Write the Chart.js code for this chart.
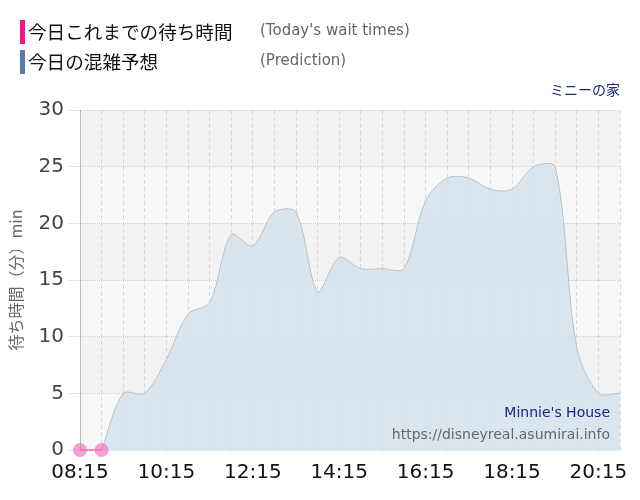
<!DOCTYPE html>
<html>
<head>
<meta charset="utf-8">
<script src="https://cdn.jsdelivr.net/npm/chart.js@4/dist/chart.umd.min.js"></script>
<style>
  body { margin: 0; background: #fff; }
  #wrap { position: relative; width: 640px; height: 500px; }
  .leg { position: absolute; left: 20px; height: 24px; font-family: "Noto Sans CJK JP", sans-serif; }
  .leg .bar { position: absolute; left: 0; top: 0; width: 5px; height: 24px; }
  .leg .jp { position: absolute; left: 8px; top: -3px; font-size: 18.6px; color: #111; white-space: nowrap; }
  .leg .en { position: absolute; left: 240px; top: 1px; font-size: 15px; color: #666; white-space: nowrap; font-family: "DejaVu Sans", sans-serif; }
  #park { position: absolute; right: 20px; top: 79px; font-size: 14px; color: #1a237e; font-family: "Noto Sans CJK JP", sans-serif; }
  #wm1 { position: absolute; right: 30px; top: 404px; font-size: 14px; color: #1a237e; font-family: "DejaVu Sans", sans-serif; }
  #wm2 { position: absolute; right: 30px; top: 426px; font-size: 14px; color: #666; font-family: "DejaVu Sans", sans-serif; }
</style>
</head>
<body>
<div id="wrap">
  <canvas id="c" width="640" height="500"></canvas>
  <div class="leg" style="top:20px"><div class="bar" style="background:#f5148c"></div><div class="jp">今日これまでの待ち時間</div><div class="en">(Today's wait times)</div></div>
  <div class="leg" style="top:50px"><div class="bar" style="background:#5b7aa6"></div><div class="jp">今日の混雑予想</div><div class="en">(Prediction)</div></div>
  <div id="park">ミニーの家</div>
  <div id="wm1">Minnie's House</div>
  <div id="wm2">https://disneyreal.asumirai.info</div>
</div>
<script>
const times = ['08:15','08:45','09:15','09:45','10:15','10:45','11:15','11:45','12:15','12:45','13:15','13:45',
  '14:15','14:45','15:15','15:45','16:15','16:45','17:15','17:45','18:15','18:45','19:15','19:45','20:15','20:45'];
const actual = [0, 0];
const prediction = [null, 0, 5, 5, 8, 12, 13, 19, 18, 21, 21, 14, 17, 16, 16, 16, 22, 24, 24, 23, 23, 25, 25, 9, 5, 5];
const yTicks = [0, 5, 10, 15, 20, 25, 30];

// striped plot background
const bands = {
  id: 'bands',
  beforeDraw(chart) {
    const { ctx, chartArea: a, scales: { y } } = chart;
    ctx.save();
    for (let i = 0; i < yTicks.length - 1; i++) {
      const top = y.getPixelForValue(yTicks[i + 1]);
      const bot = y.getPixelForValue(yTicks[i]);
      ctx.fillStyle = i % 2 ? '#f2f2f2' : '#f7f7f7';
      ctx.fillRect(a.left, top, a.right - a.left, bot - top);
    }
    ctx.restore();
  }
};

new Chart(document.getElementById('c'), {
  type: 'line',
  data: {
    labels: times,
    datasets: [{
      label: '今日これまでの待ち時間',
      data: actual,
      borderColor: 'rgba(240,90,170,0.7)',
      backgroundColor: 'rgba(240,110,185,0.65)',
      borderWidth: 2,
      pointRadius: 7,
      pointBorderWidth: 0,
      fill: false,
      clip: false,
      order: 0
    }, {
      label: '今日の混雑予想',
      data: prediction,
      borderColor: '#b4c3d0',
      backgroundColor: 'rgba(214,226,236,0.85)',
      borderWidth: 1,
      pointRadius: 0,
      fill: 'origin',
      tension: 0.3,
      order: 1
    }]
  },
  options: {
    responsive: false,
    animation: false,
    devicePixelRatio: 1,
    layout: { padding: { top: 110, right: 20, left: 0, bottom: 0 } },
    plugins: { legend: { display: false }, tooltip: { enabled: false } },
    scales: {
      x: {
        offset: false,
        afterFit(s) { s.height = 50; },
        grid: { color: '#d8d8d8', lineWidth: 1, drawTicks: false },
        border: { display: false, dash: [4, 3] },
        ticks: {
          autoSkip: false, maxRotation: 0, padding: 11,
          color: '#111', font: { family: 'DejaVu Sans', size: 20 },
          callback(v, i) { return i % 4 === 0 ? times[i] : ''; }
        }
      },
      y: {
        min: 0, max: 30,
        afterFit(s) { s.width = 80; },
        grid: { color: '#cfcfcf', lineWidth: 1, tickLength: 12, tickColor: '#e4e4e4' },
        border: { display: true, color: '#bbb', dash: [1, 1] },
        ticks: { stepSize: 5, padding: 4, color: '#444', font: { family: 'DejaVu Sans', size: 20 } },
        title: { display: true, text: '待ち時間（分）min', color: '#666', padding: { top: 6, bottom: 0 },
          font: { family: 'Noto Sans CJK JP', size: 16 } }
      }
    }
  },
  plugins: [bands]
});
</script>
</body>
</html>
